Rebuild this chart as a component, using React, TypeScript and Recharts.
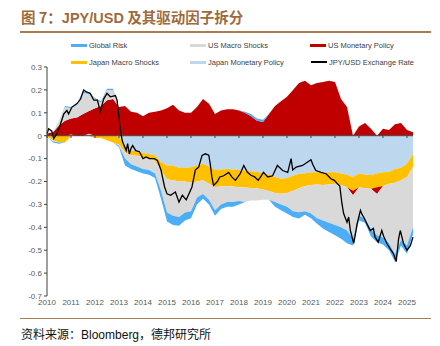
import React from 'react';
import { ComposedChart, Area, Line, XAxis, YAxis, ReferenceLine } from 'recharts';

const dates = [
  2010, 2010.25, 2010.5, 2010.75, 2011, 2011.25, 2011.5, 2011.75, 2012, 2012.25, 2012.5, 2012.75,
  2013, 2013.25, 2013.5, 2013.75, 2014, 2014.25, 2014.5, 2014.75, 2015, 2015.25, 2015.5, 2015.75,
  2016, 2016.25, 2016.5, 2016.75, 2017, 2017.25, 2017.5, 2017.75, 2018, 2018.25, 2018.5, 2018.75,
  2019, 2019.25, 2019.5, 2019.75, 2020, 2020.25, 2020.5, 2020.75, 2021, 2021.25, 2021.5, 2021.75,
  2022, 2022.25, 2022.5, 2022.75, 2023, 2023.25, 2023.5, 2023.75, 2024, 2024.25, 2024.5, 2024.75,
  2025, 2025.25,
];

const japanMonetary = [
  0, 0, 0, 0, 0, 0, 0, 0.008, 0, 0, 0, 0,
  -0.005, -0.045, -0.065, -0.068, -0.075, -0.08, -0.087, -0.115, -0.13, -0.13, -0.14, -0.14,
  -0.138, -0.13, -0.122, -0.135, -0.15, -0.148, -0.145, -0.148, -0.15, -0.152, -0.155, -0.158,
  -0.163, -0.17, -0.18, -0.188, -0.185, -0.175, -0.166, -0.165, -0.16, -0.16, -0.163, -0.16,
  -0.16, -0.165, -0.17, -0.18, -0.165, -0.17, -0.172, -0.165, -0.16, -0.158, -0.145, -0.14,
  -0.122, -0.08,
];

const japanMacro = [
  -0.005, -0.02, -0.03, -0.03, 0.005, 0, 0, 0, -0.01, -0.01, -0.02, -0.03,
  -0.035, -0.027, -0.02, -0.02, -0.018, -0.018, -0.023, -0.035, -0.06, -0.065, -0.06, -0.06,
  -0.067, -0.07, -0.073, -0.075, -0.074, -0.074, -0.075, -0.074, -0.075, -0.074, -0.073, -0.072,
  -0.072, -0.072, -0.07, -0.066, -0.065, -0.065, -0.064, -0.055, -0.055, -0.053, -0.052, -0.053,
  -0.05, -0.05, -0.055, -0.06, -0.06, -0.06, -0.06, -0.06, -0.06, -0.052, -0.06, -0.055,
  -0.058, -0.057,
];

const usMonetary = [
  0.01, 0.015, 0.045, 0.065, 0.07, 0.08, 0.095, 0.1, 0.12, 0.13, 0.155, 0.16,
  0.125, 0.13, 0.105, 0.1, 0.085, 0.1, 0.105, 0.11, 0.12, 0.135, 0.11, 0.1,
  0.1, 0.125, 0.16, 0.14, 0.095, 0.11, 0.115, 0.115, 0.11, 0.1, 0.085, 0.065,
  0.06, 0.095, 0.13, 0.15, 0.17, 0.2, 0.23, 0.24, 0.22, 0.23, 0.235, 0.24,
  0.235, 0.16, 0.125, -0.02, 0.04, 0.055, 0.03, -0.03, 0.03, 0.025, 0.05, 0.055,
  0.025, 0.015,
];

const usMacro = [
  0.005, -0.005, 0.02, 0.06, 0.045, 0.055, 0.09, 0.075, 0.04, 0.015, 0.045, 0.04,
  -0.005, -0.028, -0.04, -0.047, -0.052, -0.052, -0.055, -0.09, -0.145, -0.155, -0.155, -0.135,
  -0.125, -0.07, -0.06, -0.07, -0.101, -0.078, -0.07, -0.068, -0.06, -0.064, -0.055, -0.053,
  -0.045, -0.038, -0.04, -0.046, -0.06, -0.09, -0.104, -0.11, -0.125, -0.147, -0.155, -0.167,
  -0.18, -0.185, -0.189, -0.19, -0.125, -0.13, -0.178, -0.18, -0.225, -0.26, -0.315, -0.26,
  -0.3, -0.263,
];

const globalRisk = [
  0, -0.005, -0.005, 0.005, 0.005, 0.005, 0.01, 0.005, 0.005, 0.005, 0.005, 0.005,
  -0.005, -0.03, -0.02, -0.02, -0.02, -0.02, -0.02, -0.035, -0.04, -0.04, -0.038, -0.035,
  -0.03, -0.03, -0.02, -0.02, -0.025, -0.02, -0.02, -0.02, -0.015, 0.005, 0.01, 0.01,
  0.01, 0, -0.02, -0.025, -0.03, -0.025, -0.028, -0.015, -0.02, -0.025, -0.035, -0.04,
  -0.045, -0.05, -0.056, -0.03, -0.02, -0.02, -0.03, -0.03, -0.03, -0.03, -0.03, -0.025,
  -0.035, -0.03,
];

// JPY/USD exchange rate line, read at its own (finer) dates
const fxDates = [
  2010, 2010.07, 2010.2, 2010.28, 2010.42, 2010.56, 2010.7, 2010.83, 2010.9, 2011.04, 2011.25, 2011.4,
  2011.53, 2011.67, 2011.8, 2011.95, 2012.1, 2012.22, 2012.36, 2012.5, 2012.64, 2012.85, 2012.92, 2013.03,
  2013.13, 2013.2, 2013.3, 2013.36, 2013.43, 2013.5, 2013.57, 2013.7, 2013.85, 2014, 2014.13, 2014.27,
  2014.47, 2014.6, 2014.75, 2014.9, 2015, 2015.15, 2015.35, 2015.5, 2015.64, 2015.8, 2015.93, 2016.04,
  2016.18, 2016.32, 2016.46, 2016.6, 2016.74, 2016.8, 2016.87, 2016.94, 2017.1, 2017.2, 2017.36, 2017.57,
  2017.7, 2017.85, 2018.05, 2018.2, 2018.35, 2018.5, 2018.65, 2018.8, 2018.9, 2019.02, 2019.2, 2019.4,
  2019.6, 2019.82, 2020.03, 2020.17, 2020.24, 2020.38, 2020.65, 2020.86, 2021, 2021.07, 2021.2, 2021.42,
  2021.63, 2021.83, 2021.97, 2022.1, 2022.2, 2022.29, 2022.36, 2022.5, 2022.57, 2022.64, 2022.78, 2022.85,
  2022.92, 2023.06, 2023.13, 2023.2, 2023.33, 2023.47, 2023.6, 2023.67, 2023.8, 2023.95, 2024.03, 2024.17,
  2024.3, 2024.44, 2024.55, 2024.65, 2024.72, 2024.86, 2025, 2025.14, 2025.25,
];
const jpyUsd = [
  0.01, 0.03, 0.02, -0.013, 0.01, 0.05, 0.095, 0.11, 0.095, 0.125, 0.14, 0.16,
  0.2, 0.19, 0.185, 0.155, 0.155, 0.105, 0.16, 0.185, 0.17, 0.175, 0.155, 0.05,
  -0.02, -0.04, -0.065, -0.035, -0.08, -0.055, -0.043, -0.065, -0.07, -0.1, -0.093, -0.1,
  -0.1, -0.108, -0.15, -0.224, -0.254, -0.26, -0.246, -0.29, -0.26, -0.28, -0.25, -0.224,
  -0.15, -0.137, -0.086, -0.079, -0.085, -0.122, -0.18, -0.217, -0.2, -0.18, -0.175, -0.16,
  -0.18, -0.195, -0.166, -0.13, -0.16, -0.173, -0.18, -0.195, -0.18, -0.16, -0.18, -0.175,
  -0.13, -0.152, -0.16, -0.1, -0.15, -0.137, -0.13, -0.115, -0.105, -0.125, -0.152, -0.16,
  -0.166, -0.188, -0.195, -0.21, -0.22, -0.297, -0.34, -0.378, -0.355, -0.414, -0.47, -0.43,
  -0.385, -0.326, -0.345, -0.356, -0.385, -0.414, -0.405, -0.443, -0.465, -0.414, -0.44, -0.472,
  -0.494, -0.516, -0.55, -0.45, -0.414, -0.472, -0.5, -0.48, -0.443,
];

const yearTicks = [2010, 2011, 2012, 2013, 2014, 2015, 2016, 2017, 2018, 2019, 2020, 2021, 2022, 2023, 2024, 2025];
const valueTicks = [-0.7, -0.6, -0.5, -0.4, -0.3, -0.2, -0.1, 0, 0.1, 0.2, 0.3];

// Stack order from zero outward
const seriesDefs = [
  { key: 'jmp', values: japanMonetary, color: '#BDD7EE' },
  { key: 'jms', values: japanMacro, color: '#FFC000' },
  { key: 'usmp', values: usMonetary, color: '#C00000' },
  { key: 'usms', values: usMacro, color: '#D9D9D9' },
  { key: 'gr', values: globalRisk, color: '#4DAEF5' },
];

const legendRow1 = [
  { name: 'Global Risk', color: '#4DAEF5', x: 71, thick: 3 },
  { name: 'US Macro Shocks', color: '#D9D9D9', x: 190, thick: 3 },
  { name: 'US Monetary Policy', color: '#C00000', x: 310, thick: 3 },
];
const legendRow2 = [
  { name: 'Japan Macro Shocks', color: '#FFC000', x: 71, thick: 3 },
  { name: 'Japan Monetary Policy', color: '#BDD7EE', x: 190, thick: 3 },
  { name: 'JPY/USD Exchange Rate', color: '#000000', x: 311, thick: 1.3 },
];

// Diverging stack: positive parts stack upward, negative parts downward
const data = dates.map((t, i) => {
  const row: Record<string, any> = { t };
  let pos = 0;
  let neg = 0;
  seriesDefs.forEach((s) => {
    const v = s.values[i];
    if (v >= 0) {
      row[s.key + 'Pos'] = [pos, pos + v];
      row[s.key + 'Neg'] = [neg, neg];
      pos += v;
    } else {
      row[s.key + 'Neg'] = [neg + v, neg];
      row[s.key + 'Pos'] = [pos, pos];
      neg += v;
    }
  });
  return row;
});

const fxData = fxDates.map((t, i) => ({ t, fx: jpyUsd[i] }));

const sans = '"Liberation Sans", Arial, sans-serif';
const cjk = '"Noto Sans CJK SC", sans-serif';

function LegendRow({ items, y }: { items: typeof legendRow1; y: number }) {
  return (
    <>
      {items.map((it) => (
        <div key={it.name} style={{ position: 'absolute', left: it.x, top: y - 6, height: 12, display: 'flex', alignItems: 'center' }}>
          <div style={{ width: 16, height: it.thick, background: it.color }} />
          <span style={{ marginLeft: 2, fontFamily: sans, fontSize: 7.5, color: '#404040', whiteSpace: 'nowrap' }}>{it.name}</span>
        </div>
      ))}
    </>
  );
}

export default function App() {
  return (
    <div style={{ position: 'fixed', left: 0, top: 0, width: 440, height: 346, background: '#fff', overflow: 'hidden' }}>
      <div style={{ position: 'absolute', left: 21, top: 7, fontFamily: cjk, fontWeight: 700, fontSize: 14.5, color: '#9E6B3C', whiteSpace: 'nowrap', lineHeight: '20px' }}>
        图 7：<span style={{ fontFamily: sans }}>JPY/USD</span> 及其驱动因子拆分
      </div>
      <div style={{ position: 'absolute', left: 20, top: 31, width: 411, height: 1.5, background: '#A87B50' }} />
      <div style={{ position: 'absolute', left: 0, top: 0 }}>
        <ComposedChart width={440} height={346} data={data} margin={{ top: 67, right: 27, bottom: 30, left: 17 }}>
          <XAxis
            dataKey="t"
            type="number"
            domain={[2010, 2025.25]}
            ticks={yearTicks}
            axisLine={false}
            tickLine={false}
            tickSize={0}
            tickMargin={3}
            height={20}
            interval={0}
            allowDuplicatedCategory={false}
            tick={{ fontSize: 8, fill: '#595959', fontFamily: sans }}
          />
          <YAxis
            type="number"
            domain={[-0.7, 0.3]}
            ticks={valueTicks}
            width={30}
            interval={0}
            tickSize={3}
            tickMargin={2}
            axisLine={{ stroke: '#404040' }}
            tickLine={{ stroke: '#404040' }}
            tickFormatter={(v: number) => String(Math.round(v * 10) / 10)}
            tick={{ fontSize: 8, fill: '#595959', fontFamily: sans }}
          />
          {seriesDefs.map((s) => (
            <Area key={s.key + 'Pos'} dataKey={s.key + 'Pos'} type="linear" fill={s.color} stroke="none" fillOpacity={1} isAnimationActive={false} />
          ))}
          {seriesDefs.map((s) => (
            <Area key={s.key + 'Neg'} dataKey={s.key + 'Neg'} type="linear" fill={s.color} stroke="none" fillOpacity={1} isAnimationActive={false} />
          ))}
          <ReferenceLine y={0} stroke="#404040" strokeWidth={1} />
          {yearTicks.map((yr) => (
            <ReferenceLine key={yr} segment={[{ x: yr, y: 0 }, { x: yr, y: -0.01 }]} stroke="#404040" strokeWidth={1} />
          ))}
          <Line data={fxData} dataKey="fx" type="linear" stroke="#000000" strokeWidth={1.3} dot={false} isAnimationActive={false} />
        </ComposedChart>
      </div>
      <LegendRow items={legendRow1} y={45} />
      <LegendRow items={legendRow2} y={62} />
      <div style={{ position: 'absolute', left: 20, top: 317.5, width: 411, height: 1.5, background: '#A87B50' }} />
      <div style={{ position: 'absolute', left: 21, top: 326, fontFamily: cjk, fontSize: 12, color: '#111', whiteSpace: 'nowrap', lineHeight: '16px' }}>
        资料来源：<span style={{ fontFamily: sans }}>Bloomberg</span>，德邦研究所
      </div>
    </div>
  );
}
